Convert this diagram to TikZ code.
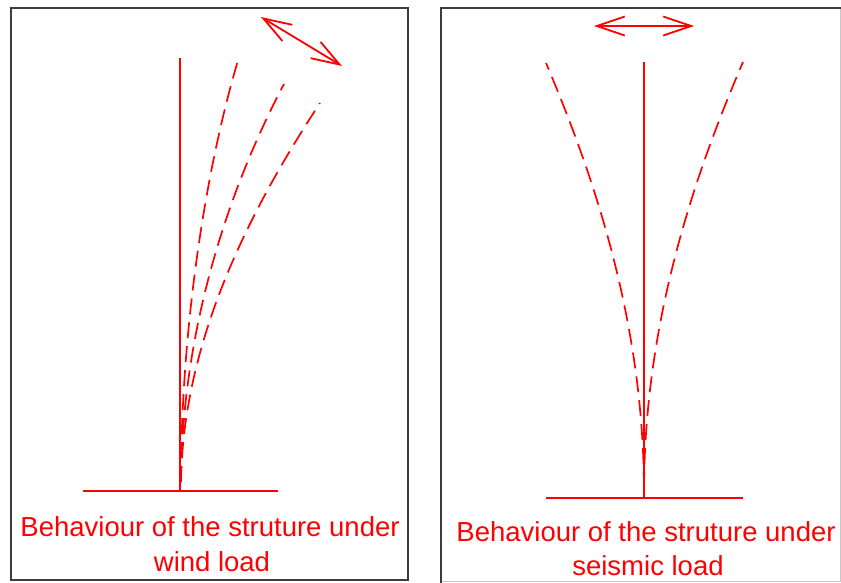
\documentclass[tikz,border=0pt]{standalone}
\usepackage{fontspec}
\setmainfont{Liberation Sans}
\usetikzlibrary{arrows.meta}
\definecolor{framegray}{RGB}{60,60,60}
\definecolor{lightframe}{RGB}{200,200,200}
\begin{document}
\begin{tikzpicture}[x=1pt,y=-1pt,
  redline/.style={draw=red,line width=1.6pt},
  dashcurve/.style={draw=red,line width=1.7pt,dash pattern=on 16pt off 8pt},
  frameline/.style={draw=framegray,line width=2pt},
  motion/.style={draw=red,line width=1.8pt,{Straight Barb[length=28pt,width=19pt]}-{Straight Barb[length=28pt,width=19pt]}},
  caption/.style={text=red,font=\fontsize{27.5}{32}\selectfont,anchor=base,inner sep=0pt}]
\useasboundingbox (0,0) rectangle (841,582);
% frames
\draw[frameline] (11,8) rectangle (408,580);
\draw[draw=lightframe,line width=1pt] (840,8) -- (840,581) -- (441,581);
\draw[frameline] (441,590) -- (441,8) -- (845,8);
% left panel
\coordinate (Ltop) at (180,58);
\coordinate (Lbase) at (180,491);
\coordinate (Lg1) at (83,491);
\coordinate (Lg2) at (278,491);
\coordinate (Lroot) at (181,482);
\coordinate (Le1) at (239,57);
\coordinate (Le2) at (284,84);
\coordinate (Le3) at (320,103);
\draw[redline] (Lg1) -- (Lg2);
\draw[redline] (Lbase) -- (Ltop);
\draw[dashcurve] (Lroot) .. controls (181,330) and (205,170) .. (Le1);
\draw[dashcurve] (Lroot) .. controls (182,330) and (228,190) .. (Le2);
\draw[dashcurve] (Lroot) .. controls (183,340) and (250,210) .. (Le3);
\coordinate (La1) at (261,17);
\coordinate (La2) at (342,66);
\draw[motion] (La1) -- (La2);
\node[caption] (Lcap1) at (210,536) {Behaviour of the struture under};
\node[caption] (Lcap2) at (212,571) {wind load};
% right panel
\coordinate (Rtop) at (644,62);
\coordinate (Rbase) at (644,498);
\coordinate (Rg1) at (546,498);
\coordinate (Rg2) at (743,498);
\coordinate (Rroot) at (644,488);
\coordinate (Re1) at (546,63);
\coordinate (Re2) at (743,62);
\draw[redline] (Rg1) -- (Rg2);
\draw[redline] (Rbase) -- (Rtop);
\draw[dashcurve] (Rroot) .. controls (643,330) and (600,190) .. (Re1);
\draw[dashcurve] (Rroot) .. controls (645,330) and (688,190) .. (Re2);
\coordinate (Ra1) at (594,26);
\coordinate (Ra2) at (694,26);
\draw[motion] (Ra1) -- (Ra2);
\node[caption] (Rcap1) at (646,541) {Behaviour of the struture under};
\node[caption] (Rcap2) at (648,575) {seismic load};
\end{tikzpicture}
\end{document}
